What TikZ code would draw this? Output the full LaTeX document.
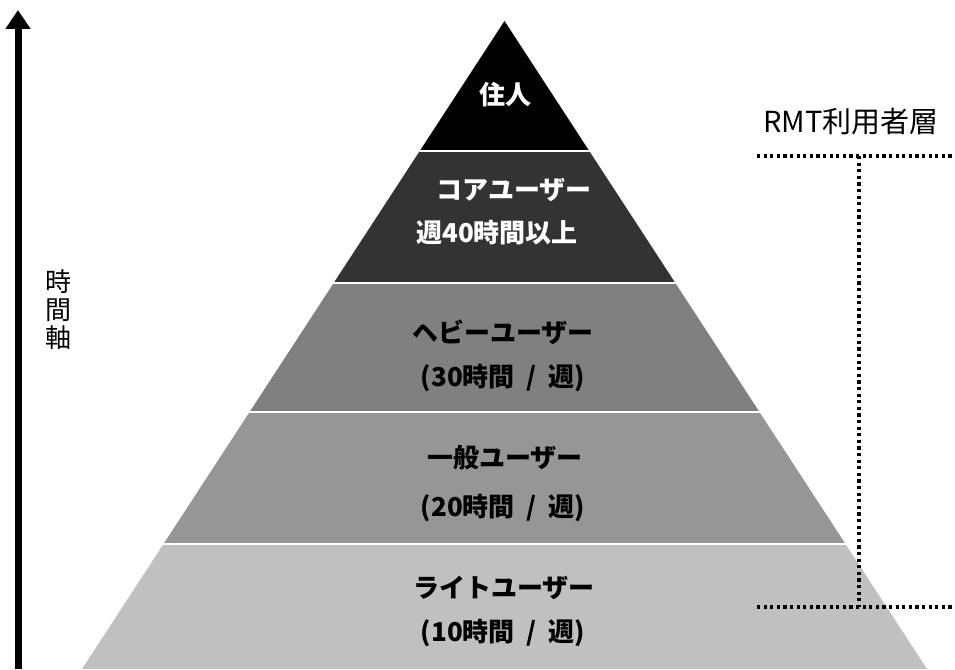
\documentclass[tikz,border=0pt]{standalone}
\usepackage{fontspec}
\setmainfont{Noto Sans CJK JP}
\usetikzlibrary{arrows.meta}
\definecolor{lvA}{HTML}{000000}
\definecolor{lvB}{HTML}{333333}
\definecolor{lvC}{HTML}{808080}
\definecolor{lvD}{HTML}{969696}
\definecolor{lvE}{HTML}{C0C0C0}
\tikzset{
  lbl/.style={font=\fontsize{26}{30}\selectfont\bfseries, inner sep=0pt, anchor=center},
  lblw/.style={lbl, text=white},
  lblk/.style={lbl, text=black},
  sep/.style={white, line width=2pt},
  dotline/.style={line width=3.2pt, dash pattern=on 3.2pt off 3.4pt},
}
\newcommand{\slsp}{\hspace{12pt}/\hspace{12pt}}
\begin{document}
\begin{tikzpicture}[x=1pt,y=-1pt]
\useasboundingbox (0,0) rectangle (955,669);
% pyramid
\begin{scope}
  \clip (82,669) -- (504.5,21) -- (927,669) -- cycle;
  \fill[lvA] (0,0) rectangle (955,150.5);
  \fill[lvB] (0,150.5) rectangle (955,283);
  \fill[lvC] (0,283) rectangle (955,412);
  \fill[lvD] (0,412) rectangle (955,543.5);
  \fill[lvE] (0,543.5) rectangle (955,669);
  \draw[sep] (0,150.5) -- (955,150.5);
  \draw[sep] (0,283) -- (955,283);
  \draw[sep] (0,412) -- (955,412);
  \draw[sep] (0,543.5) -- (955,543.5);
\end{scope}
% labels
\node[lblw] (l1) at (505,95) {住人};
\node[lblw] (l2a) at (514,190) {コアユーザー};
\node[lblw] (l2b) at (497,233) {週40時間以上};
\node[lblk] (l3a) at (503,332) {ヘビーユーザー};
\node[lblk] (l3b) at (503,378) {(30時間\slsp 週)};
\node[lblk] (l4a) at (505,458) {一般ユーザー};
\node[lblk] (l4b) at (503,508) {(20時間\slsp 週)};
\node[lblk] (l5a) at (504,588) {ライトユーザー};
\node[lblk] (l5b) at (503,633) {(10時間\slsp 週)};
% time axis
\coordinate (ax0) at (18,669);
\coordinate (ax1) at (18,10);
\draw[line width=7pt, -{Triangle[length=19pt 0 0,width=24pt 0 0]}] (ax0) -- (ax1);
\node[font=\fontsize{26}{28}\selectfont, align=center, inner sep=0pt] (axl) at (58.5,310) {時\\間\\軸};
% RMT bracket
\node[font=\fontsize{29}{32}\selectfont, inner sep=0pt] (rmt) at (851,122) {RMT利用者層};
\coordinate (t0) at (757,156);
\coordinate (t1) at (955,156);
\coordinate (tm) at (859,156);
\coordinate (b0) at (757,607);
\coordinate (b1) at (955,607);
\coordinate (bm) at (859,607);
\draw[dotline] (t0) -- (t1);
\draw[dotline] (b0) -- (b1);
\draw[dotline] (tm) -- (bm);
\end{tikzpicture}
\end{document}
